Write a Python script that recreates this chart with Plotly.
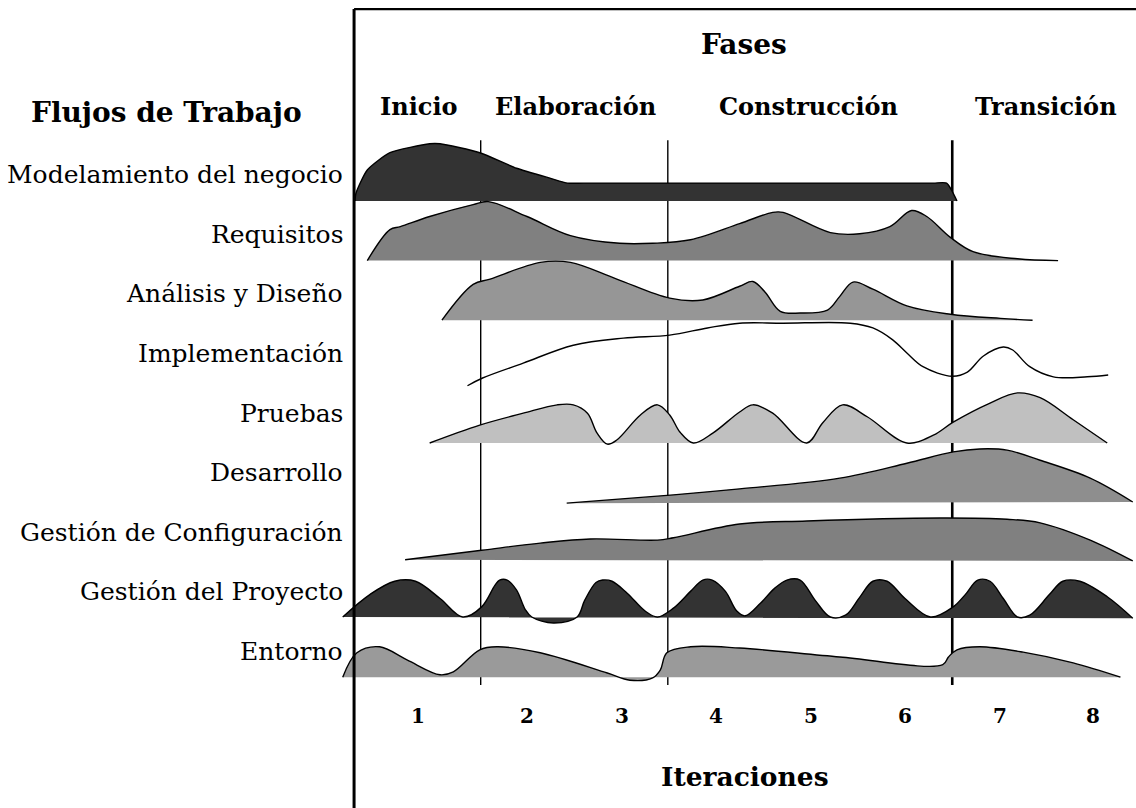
import plotly.graph_objects as go

# ---------------- data ----------------
workflows = ["Modelamiento del negocio", "Requisitos", "Análisis y Diseño",
             "Implementación", "Pruebas", "Desarrollo",
             "Gestión de Configuración", "Gestión del Proyecto", "Entorno"]

phases = ["Inicio", "Elaboración", "Construcción", "Transición"]
phase_label_pos = [0.86, 2.51, 4.98, 7.49]
phase_bounds = [1.51, 3.49, 6.50]

iterations = ["1", "2", "3", "4", "5", "6", "7", "8"]
iteration_pos = [0.85, 2.0, 3.0, 4.0, 5.0, 6.0, 7.0, 7.99]

# time in iterations, effort as fraction of one row height
modelamiento_t = [0.18, 0.19, 0.31, 0.55, 0.97, 1.08, 1.50, 1.89, 2.25, 2.43, 2.60,
                  3.50, 4.50, 5.50, 6.30, 6.44, 6.55]
modelamiento_h = [0.00, 0.13, 0.52, 0.81, 0.96, 0.96, 0.81, 0.55, 0.38, 0.30, 0.30,
                  0.30, 0.30, 0.30, 0.30, 0.30, 0.00]

requisitos_t = [0.31, 0.55, 0.66, 0.97, 1.43, 1.59, 2.00, 2.46, 2.98, 3.33, 3.73, 4.25,
                4.60, 4.71, 5.21, 5.52, 5.84, 6.07, 6.23, 6.48, 6.72, 7.19, 7.62]
requisitos_h = [0.00, 0.52, 0.57, 0.74, 0.94, 0.99, 0.74, 0.42, 0.29, 0.29, 0.35, 0.62,
                0.81, 0.81, 0.47, 0.45, 0.57, 0.84, 0.74, 0.39, 0.15, 0.03, 0.00]

analisis_t = [1.10, 1.43, 1.61, 2.14, 2.46, 2.95, 3.51, 3.86, 4.25, 4.39, 4.52, 4.68,
              4.89, 5.18, 5.31, 5.45, 5.66, 6.02, 6.48, 7.01, 7.35]
analisis_h = [0.00, 0.60, 0.69, 0.97, 0.97, 0.69, 0.37, 0.34, 0.57, 0.65, 0.47, 0.15,
              0.12, 0.17, 0.40, 0.64, 0.52, 0.24, 0.10, 0.03, 0.00]

implementacion_t = [1.37, 1.53, 1.96, 2.49, 3.02, 3.51, 3.91, 4.25, 4.71, 5.42, 5.66, 5.87,
                    6.02, 6.19, 6.50, 6.66, 6.83, 7.04, 7.14, 7.32, 7.57, 7.93, 8.15]
implementacion_h = [-0.10, 0.03, 0.28, 0.58, 0.70, 0.75, 0.87, 0.95, 0.95, 0.95, 0.87, 0.67,
                    0.45, 0.22, 0.06, 0.13, 0.40, 0.55, 0.50, 0.22, 0.05, 0.05, 0.08]

pruebas_t = [0.97, 1.50, 1.96, 2.32, 2.49, 2.64, 2.74, 2.85, 2.95, 3.20, 3.38, 3.51,
             3.62, 3.76, 3.97, 4.25, 4.39, 4.60, 4.96, 5.13, 5.34, 5.60, 6.02, 6.30,
             6.51, 6.90, 7.19, 7.43, 7.78, 8.14]
pruebas_h = [-0.06, 0.24, 0.44, 0.58, 0.58, 0.44, 0.11, -0.08, -0.01, 0.41, 0.58, 0.41,
             0.12, -0.06, 0.11, 0.46, 0.58, 0.44, -0.06, 0.28, 0.58, 0.38, -0.06, 0.07,
             0.29, 0.61, 0.78, 0.70, 0.33, -0.06]

desarrollo_t = [2.42, 3.55, 4.25, 5.31, 6.02, 6.51, 6.79, 7.08, 7.43, 7.96, 8.41]
desarrollo_h = [-0.07, 0.07, 0.17, 0.35, 0.60, 0.79, 0.84, 0.82, 0.65, 0.35, -0.05]

configuracion_t = [0.71, 1.52, 2.14, 2.67, 3.38, 3.55, 4.25, 4.96, 6.37, 7.08, 7.43, 7.96, 8.41]
configuracion_h = [-0.02, 0.14, 0.26, 0.33, 0.31, 0.35, 0.58, 0.63, 0.68, 0.66, 0.60, 0.31, -0.04]

proyecto_t = [0.05, 0.34, 0.60, 0.82, 1.08, 1.32, 1.52, 1.66, 1.71, 1.79, 1.89, 1.98,
              2.05, 2.28, 2.53, 2.61, 2.73, 2.80, 2.90, 3.06, 3.25, 3.38, 3.55, 3.73,
              3.86, 3.96, 4.10, 4.22, 4.31, 4.47, 4.62, 4.75, 4.89, 5.05, 5.21, 5.37,
              5.52, 5.66, 5.81, 6.00, 6.27, 6.51, 6.64, 6.77, 6.90, 7.04, 7.19, 7.32,
              7.53, 7.67, 7.85, 8.14, 8.41]
proyecto_h = [0.02, 0.40, 0.62, 0.62, 0.33, 0.02, 0.19, 0.55, 0.64, 0.64, 0.47, 0.15,
              0.02, -0.08, 0.02, 0.30, 0.60, 0.64, 0.62, 0.42, 0.12, 0.02, 0.17, 0.45,
              0.64, 0.64, 0.45, 0.12, 0.04, 0.25, 0.50, 0.64, 0.64, 0.30, 0.02, 0.05,
              0.35, 0.62, 0.62, 0.33, 0.02, 0.19, 0.40, 0.64, 0.62, 0.33, 0.02, 0.05,
              0.40, 0.62, 0.62, 0.36, 0.00]

entorno_t = [0.05, 0.20, 0.44, 0.73, 1.08, 1.22, 1.50, 1.68, 2.14, 2.85, 3.09, 3.33,
             3.41, 3.48, 3.73, 4.25, 5.31, 6.40, 6.46, 6.55, 6.79, 7.25, 7.78, 8.28]
entorno_h = [0.01, 0.42, 0.52, 0.30, 0.05, 0.10, 0.47, 0.52, 0.42, 0.08, -0.04, 0.00,
             0.13, 0.42, 0.52, 0.50, 0.35, 0.22, 0.35, 0.47, 0.52, 0.43, 0.25, 0.01]

series_t = [modelamiento_t, requisitos_t, analisis_t, implementacion_t, pruebas_t,
            desarrollo_t, configuracion_t, proyecto_t, entorno_t]
series_h = [modelamiento_h, requisitos_h, analisis_h, implementacion_h, pruebas_h,
            desarrollo_h, configuracion_h, proyecto_h, entorno_h]
fill_colors = ["#333333", "#808080", "#969696", None, "#c0c0c0",
               "#8e8e8e", "#808080", "#333333", "#9a9a9a"]

# ---------------- figure ----------------
SERIF = "DejaVu Serif"
fig = go.Figure()

for i, (ts, hs, fc) in enumerate(zip(series_t, series_h, fill_colors)):
    ys = [-i + h for h in hs]
    smooth = 0.6 if i == 0 else 1.0
    if fc is None:
        fig.add_trace(go.Scatter(x=ts, y=ys, mode="lines",
                                 line=dict(color="black", width=1.4, shape="spline",
                                           smoothing=smooth),
                                 hoverinfo="skip", showlegend=False))
    else:
        fig.add_trace(go.Scatter(x=ts, y=ys, mode="lines", fill="toself",
                                 fillcolor=fc,
                                 line=dict(color="black", width=1.4, shape="spline",
                                           smoothing=smooth),
                                 hoverinfo="skip", showlegend=False))

annotations = []
for i, name in enumerate(workflows):
    annotations.append(dict(x=0.07, y=-i + 0.44, xref="x", yref="y", text=name,
                            showarrow=False, xanchor="right", yanchor="middle",
                            font=dict(family=SERIF, size=25, color="black")))
annotations.append(dict(x=-1.81, y=1.48, xref="x", yref="y", text="Flujos de Trabajo",
                        showarrow=False, xanchor="center", yanchor="middle",
                        font=dict(family=SERIF, size=28, color="black", weight="bold")))
annotations.append(dict(x=4.3, y=2.63, xref="x", yref="y", text="Fases",
                        showarrow=False, xanchor="center", yanchor="middle",
                        font=dict(family=SERIF, size=28, color="black", weight="bold")))
for name, pos in zip(phases, phase_label_pos):
    annotations.append(dict(x=pos, y=1.59, xref="x", yref="y", text=name,
                            showarrow=False, xanchor="center", yanchor="middle",
                            font=dict(family=SERIF, size=24, color="black", weight="bold")))
for name, pos in zip(iterations, iteration_pos):
    annotations.append(dict(x=pos, y=-8.64, xref="x", yref="y", text=name,
                            showarrow=False, xanchor="center", yanchor="middle",
                            font=dict(family=SERIF, size=20, color="black", weight="bold")))
annotations.append(dict(x=4.31, y=-9.66, xref="x", yref="y", text="Iteraciones",
                        showarrow=False, xanchor="center", yanchor="middle",
                        font=dict(family=SERIF, size=26.5, color="black", weight="bold")))

shapes = []
for k, b in enumerate(phase_bounds):
    shapes.append(dict(type="line", xref="x", yref="y", x0=b, x1=b, y0=1.02, y1=-8.12,
                       layer="below",
                       line=dict(color="black", width=2.6 if k == len(phase_bounds) - 1 else 1.4)))
# frame: left and top border
shapes.append(dict(type="line", xref="x", yref="y", x0=0.17, x1=0.17, y0=3.22, y1=-10.3,
                   line=dict(color="black", width=3)))
shapes.append(dict(type="line", xref="x", yref="y", x0=0.17, x1=8.5, y0=3.22, y1=3.22,
                   line=dict(color="black", width=2.2)))

fig.update_layout(
    width=1136, height=808, autosize=False,
    margin=dict(l=0, r=0, t=0, b=0),
    paper_bgcolor="white", plot_bgcolor="white",
    xaxis=dict(range=[-3.5767, 8.4444], visible=False, fixedrange=True),
    yaxis=dict(range=[-10.1846, 3.3725], visible=False, fixedrange=True),
    annotations=annotations, shapes=shapes, showlegend=False,
)

fig.write_html("out.html", config={"displayModeBar": False},
               post_script="document.body.style.margin='0';")
